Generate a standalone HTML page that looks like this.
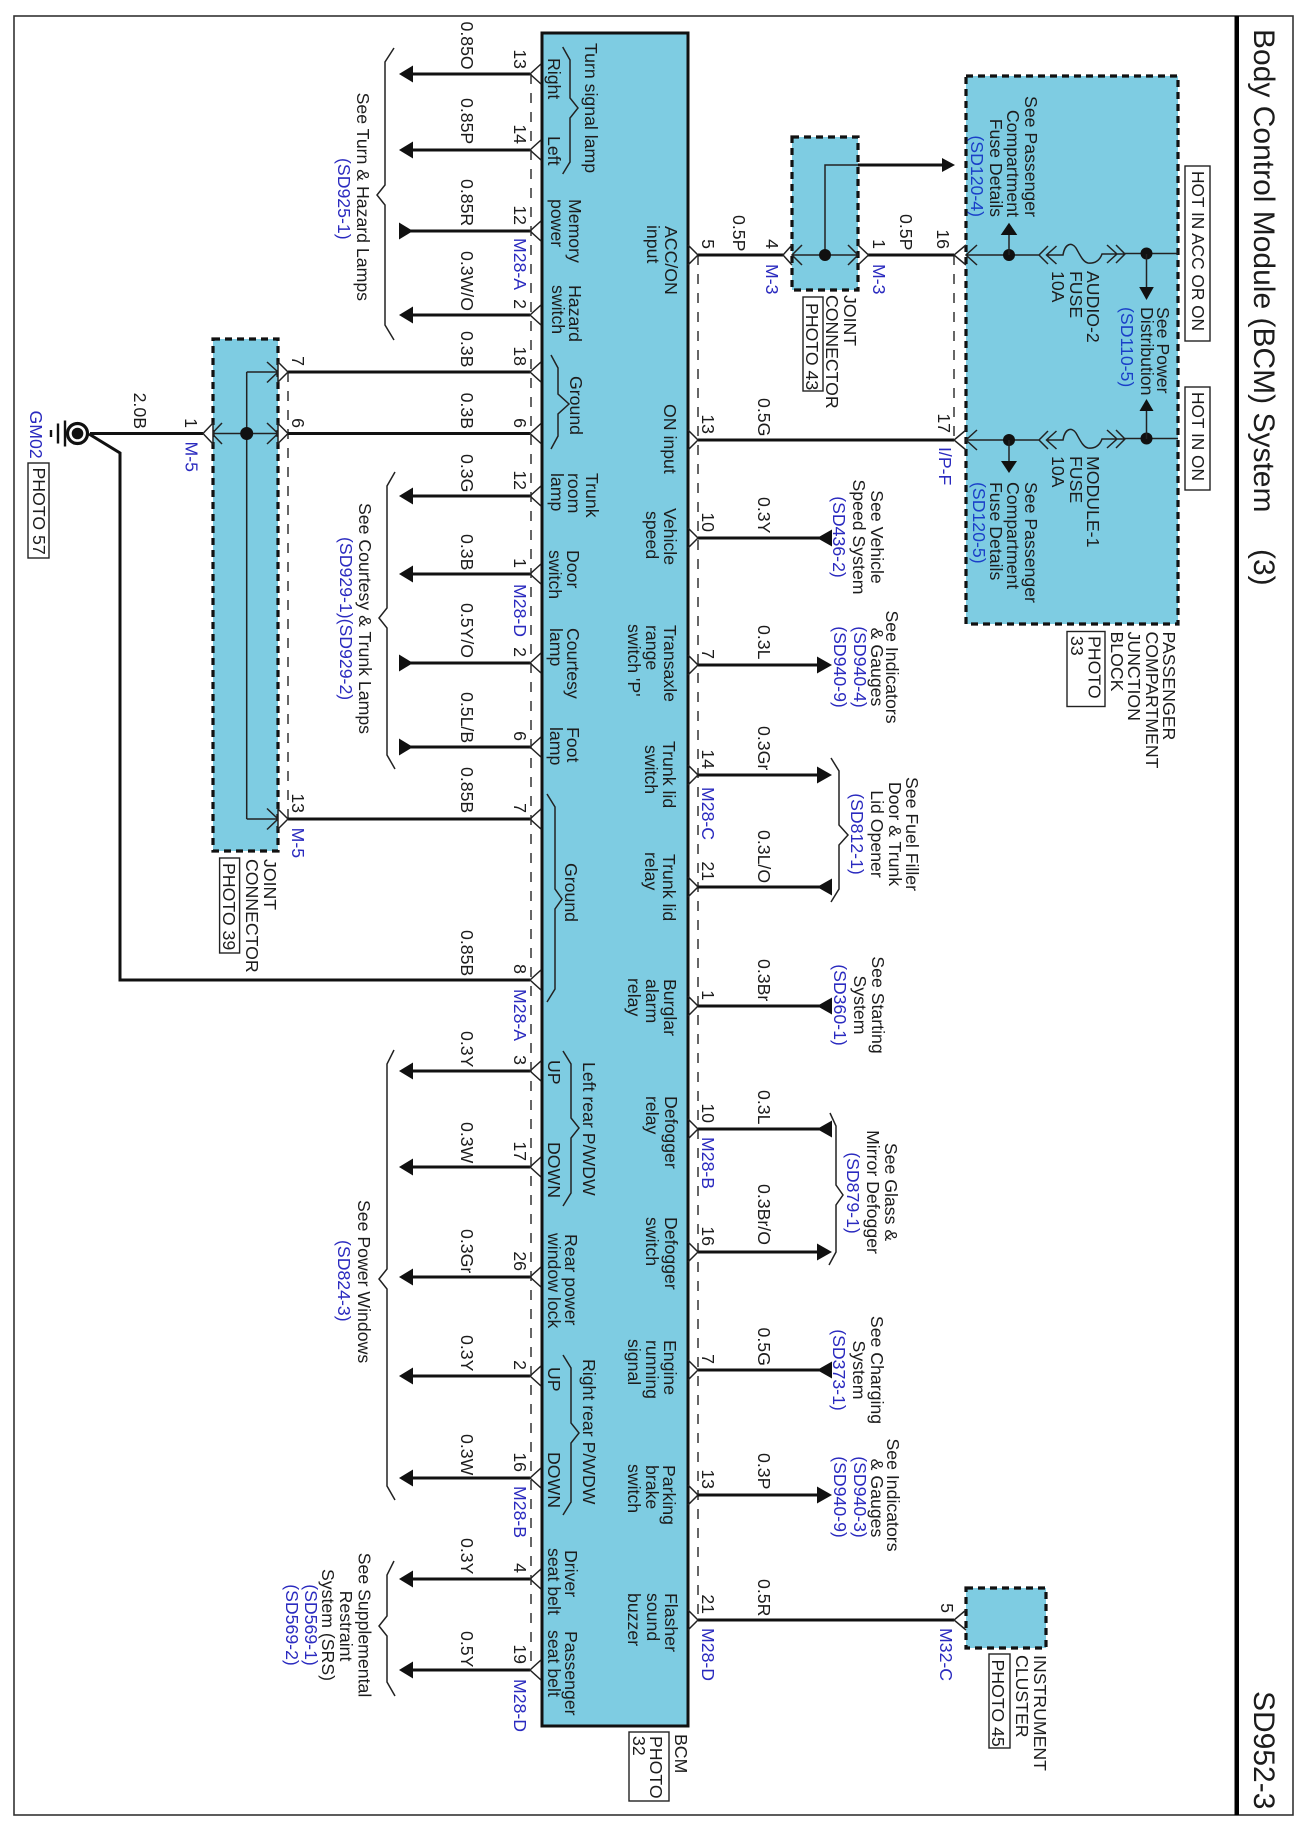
<!DOCTYPE html>
<html><head><meta charset="utf-8"><title>SD952-3</title>
<style>
html,body{margin:0;padding:0;background:#fff}
svg{display:block}
text{font-family:"Liberation Sans",sans-serif;font-size:17.7px;fill:#1c1c1c}
.m{text-anchor:middle}.e{text-anchor:end}
.b{fill:#2a2abf}.c{fill:#1a3fc8}
.t{font-size:30px}
.w{stroke:#111;stroke-width:3;fill:none}
.n{stroke:#222;stroke-width:1.5;fill:none}
.d{stroke:#333;stroke-width:1.5;stroke-dasharray:10 9;fill:none}
.x{fill:#7ecce2;stroke:#111;stroke-width:3.2;stroke-dasharray:7 5}
.k{fill:#111;stroke:none}
.r{fill:#fff;stroke:#222;stroke-width:1.4}
</style></head><body>
<svg xmlns="http://www.w3.org/2000/svg" width="1308" height="1836" viewBox="0 0 1308 1836">
<defs>
<path id="pL" class="n" d="M11 -10L0 0L11 10"/>
<path id="pR" class="n" d="M-10 -10L0 0L-10 10"/>
<polygon id="aL" class="k" points="0,0 14,-8.5 14,8.5"/>
<polygon id="aI" class="k" points="14,0 0,-8.5 0,8.5"/>
<polygon id="aR" class="k" points="15,0 0,-8.5 0,8.5"/>
<polygon id="aB" class="k" points="0,0 15,-8.5 15,8.5"/>
<g id="fuse" class="n"><path d="M966 0H1039M1048 -9L1039 0L1048 9M1056.5 -9L1046.5 0L1056.5 9M1046.5 0H1063C1065 -12 1072 -13 1076 -7C1080 0 1083 7 1088 8C1095 9 1100 5 1102 -1H1125M1107 -10L1117 -1L1107 8M1116 -10L1125 -1L1116 8M1125 -1.5H1178"/></g>
</defs>
<rect width="1308" height="1836" fill="#fff"/>
<rect x="14" y="16" width="1279" height="1799" fill="none" stroke="#333" stroke-width="1.6"/>
<rect x="1234.5" y="16" width="4.5" height="1799" fill="#000"/>

<!-- boxes -->
<rect x="542" y="33" width="146" height="1693" fill="#7ecce2" stroke="#111" stroke-width="3"/>
<rect x="966" y="76" width="212" height="548" class="x"/>
<rect x="792" y="137" width="66" height="153" class="x"/>
<rect x="213" y="339" width="65" height="512" class="x"/>
<rect x="966" y="1588" width="80" height="60" class="x"/>

<!-- dashed -->
<path class="d" d="M531 74V1670M698 255V1620M288 372V819M954 255V440"/>

<!-- left wires -->
<path class="w" d="M405 74H530M405 150H530M405 231H530M405 315H530M405 496H530M405 574H530M405 663H530M405 747H530M405 1071H530M405 1167H530M405 1277H530M405 1376H530M405 1478H530M405 1579H530M405 1670H530"/>
<path class="w" d="M288 372H530M288 433.5H530M288 819H530"/>
<path class="w" stroke-width="3.6" d="M89 434L120 453V980H530"/>
<path class="w" d="M90 433.5H203"/>
<use href="#aL" x="399" y="74"/><use href="#aL" x="399" y="150"/><use href="#aI" x="399" y="231"/><use href="#aL" x="399" y="315"/><use href="#aL" x="399" y="496"/><use href="#aL" x="399" y="574"/><use href="#aI" x="399" y="663"/><use href="#aI" x="399" y="747"/><use href="#aL" x="399" y="1071"/><use href="#aL" x="399" y="1167"/><use href="#aL" x="399" y="1277"/><use href="#aL" x="399" y="1376"/><use href="#aL" x="399" y="1478"/><use href="#aL" x="399" y="1579"/><use href="#aL" x="399" y="1670"/>
<use href="#pL" x="530" y="74"/><use href="#pL" x="530" y="150"/><use href="#pL" x="530" y="231"/><use href="#pL" x="530" y="315"/><use href="#pL" x="530" y="372"/><use href="#pL" x="530" y="433.5"/><use href="#pL" x="530" y="496"/><use href="#pL" x="530" y="574"/><use href="#pL" x="530" y="663"/><use href="#pL" x="530" y="747"/><use href="#pL" x="530" y="819"/><use href="#pL" x="530" y="980"/><use href="#pL" x="530" y="1071"/><use href="#pL" x="530" y="1167"/><use href="#pL" x="530" y="1277"/><use href="#pL" x="530" y="1376"/><use href="#pL" x="530" y="1478"/><use href="#pL" x="530" y="1579"/><use href="#pL" x="530" y="1670"/>

<!-- right wires -->
<path class="w" d="M698 255H783M868 255H954M698 440H954M698 538H820M698 665H820M698 775H820M698 887H820M698 1006H820M698 1129H820M698 1252H820M698 1370H820M698 1495H820M698 1620H954M858 165H942"/>
<use href="#pR" x="698" y="255"/><use href="#pR" x="698" y="440"/><use href="#pR" x="698" y="538"/><use href="#pR" x="698" y="665"/><use href="#pR" x="698" y="775"/><use href="#pR" x="698" y="887"/><use href="#pR" x="698" y="1006"/><use href="#pR" x="698" y="1129"/><use href="#pR" x="698" y="1252"/><use href="#pR" x="698" y="1370"/><use href="#pR" x="698" y="1495"/><use href="#pR" x="698" y="1620"/>
<use href="#aB" x="817" y="538"/><use href="#aR" x="817" y="665"/><use href="#aR" x="817" y="775"/><use href="#aB" x="817" y="887"/><use href="#aB" x="817" y="1006"/><use href="#aB" x="817" y="1129"/><use href="#aR" x="817" y="1252"/><use href="#aB" x="817" y="1370"/><use href="#aR" x="817" y="1495"/>
<polygon class="k" points="955,165 942,158 942,172"/>

<!-- M-3 joint -->
<path class="n" d="M792 255H858M825 255V165H858M802 245L792 255L802 265M848 245L858 255L848 265M792 245L783 255L792 265M858 245L868.5 255L858 265"/>
<circle cx="825" cy="255" r="6" class="k"/>

<!-- junction block pins -->
<path class="n" d="M966 245L954 255L966 265M977 245L966 255L977 265M966 430L954 440L966 450M977 430L966 440L977 450M966 1610L954 1620L966 1630"/>
<use href="#fuse" x="0" y="255"/><use href="#fuse" x="0" y="440"/>
<circle cx="1009" cy="255" r="6" class="k"/><circle cx="1146.5" cy="253.5" r="6" class="k"/>
<circle cx="1009" cy="440" r="6" class="k"/><circle cx="1146.5" cy="438.5" r="6" class="k"/>
<path class="n" stroke-width="2" d="M1009 255V235M1146.5 254V288M1009 440V461M1146.5 439V411"/>
<polygon class="k" points="1009,222.7 1000.7,235 1017.3,235"/>
<polygon class="k" points="1146.5,300 1139.2,287 1153.8,287"/>
<polygon class="k" points="1009,473 1001,461 1017,461"/>
<polygon class="k" points="1146.5,399 1139.5,411 1153.5,411"/>

<!-- M-5 joint -->
<path class="n" d="M213 433.5H278M246.7 372V819M246.7 372H278M246.7 819H278M267 362L278 372L267 382.5M267 423L278 433.5L267 444M267 808.5L278 819L267 829.5M222 423L212 433.5L222 444"/>
<circle cx="246.7" cy="433.5" r="6.5" class="k"/>
<path class="r" style="stroke-width:1.5" d="M213 423L203 433.5L213 444ZM278 362L288 372L278 382ZM278 423.5L288 433.5L278 443.5ZM278 809L288 819L278 829Z"/>

<!-- ground -->
<circle cx="77.5" cy="433.5" r="10" fill="#fff" stroke="#111" stroke-width="3.2"/>
<circle cx="77.5" cy="433.5" r="5.8" class="k"/>
<path stroke="#111" stroke-width="2.4" fill="none" d="M65 420.5V446.5M58 423.5V443.5M51 430V437"/>

<!-- braces -->
<path class="n" d="M394 48L385 62V185L377 195L385 205V325L394 340"/>
<path class="n" d="M395 472L387 486V608L379 618L387 628V755L395 769"/>
<path class="n" d="M394 1050L387 1064V1269L379 1279L387 1289V1486L395 1500"/>
<path class="n" d="M394 1561L387 1575V1616L379 1626L387 1636V1682L395 1696"/>
<path class="n" d="M562.7 47L570 60V98L578 108L570 118V162L562.7 174"/>
<path class="n" d="M551 355L558 368V394L569 404L558 414V436L551 449"/>
<path class="n" d="M547 794L555 807V889L562 899L555 909V989L547 1002"/>
<path class="n" d="M563 1051L571 1064V1118L579 1128L571 1138V1193L563 1206"/>
<path class="n" d="M563 1355L571 1368V1423L579 1433L571 1443V1502L563 1515"/>
<path class="n" d="M831 758L839 771V825L848 835L839 845V889L831 902"/>
<path class="n" d="M830 1113L836 1126V1185L843 1195L836 1205V1252L829 1265"/>

<!-- photo boxes -->
<rect class="r" x="28" y="463" width="21" height="95"/>
<rect class="r" x="219.6" y="858" width="20" height="95"/>
<rect class="r" x="803" y="297" width="20" height="94"/>
<rect class="r" x="1067" y="631.5" width="38" height="75"/>
<rect class="r" x="1185" y="166" width="25" height="175"/>
<rect class="r" x="1185" y="387" width="25" height="103"/>
<rect class="r" x="629" y="1732" width="40" height="69"/>
<rect class="r" x="989" y="1654" width="21" height="94"/>

<!-- title -->
<text class="t" transform="translate(1254,29) rotate(90)">Body Control Module (BCM) System</text>
<text class="t" transform="translate(1254,549) rotate(90)">(3)</text>
<text class="t" transform="translate(1254,1691) rotate(90)">SD952-3</text>

<!-- left wire labels -->
<text transform="translate(461,21.5) rotate(90)">0.85O</text>
<text transform="translate(461,98) rotate(90)">0.85P</text>
<text transform="translate(461,179) rotate(90)">0.85R</text>
<text transform="translate(461,251) rotate(90)">0.3W/O</text>
<text transform="translate(461,331) rotate(90)">0.3B</text>
<text transform="translate(461,392.6) rotate(90)">0.3B</text>
<text transform="translate(461,454) rotate(90)">0.3G</text>
<text transform="translate(461,534) rotate(90)">0.3B</text>
<text transform="translate(461,603) rotate(90)">0.5Y/O</text>
<text transform="translate(461,692) rotate(90)">0.5L/B</text>
<text transform="translate(461,767) rotate(90)">0.85B</text>
<text transform="translate(461,930) rotate(90)">0.85B</text>
<text transform="translate(461,1031) rotate(90)">0.3Y</text>
<text transform="translate(461,1122) rotate(90)">0.3W</text>
<text transform="translate(461,1229) rotate(90)">0.3Gr</text>
<text transform="translate(461,1335) rotate(90)">0.3Y</text>
<text transform="translate(461,1434) rotate(90)">0.3W</text>
<text transform="translate(461,1538) rotate(90)">0.3Y</text>
<text transform="translate(461,1631) rotate(90)">0.5Y</text>
<text transform="translate(134,392.6) rotate(90)">2.0B</text>

<!-- left pin numbers -->
<text class="e" transform="translate(514,69) rotate(90)">13</text>
<text class="e" transform="translate(514,144) rotate(90)">14</text>
<text class="e" transform="translate(514,225) rotate(90)">12</text>
<text class="e" transform="translate(514,309) rotate(90)">2</text>
<text class="e" transform="translate(514,366) rotate(90)">18</text>
<text class="e" transform="translate(514,428) rotate(90)">6</text>
<text class="e" transform="translate(514,490) rotate(90)">12</text>
<text class="e" transform="translate(514,568) rotate(90)">1</text>
<text class="e" transform="translate(514,657) rotate(90)">2</text>
<text class="e" transform="translate(514,741) rotate(90)">6</text>
<text class="e" transform="translate(514,813) rotate(90)">7</text>
<text class="e" transform="translate(514,974) rotate(90)">8</text>
<text class="e" transform="translate(514,1065) rotate(90)">3</text>
<text class="e" transform="translate(514,1161) rotate(90)">17</text>
<text class="e" transform="translate(514,1271) rotate(90)">26</text>
<text class="e" transform="translate(514,1370) rotate(90)">2</text>
<text class="e" transform="translate(514,1472) rotate(90)">16</text>
<text class="e" transform="translate(514,1573) rotate(90)">4</text>
<text class="e" transform="translate(514,1664) rotate(90)">19</text>
<text class="e" transform="translate(292,366) rotate(90)">7</text>
<text class="e" transform="translate(292,428) rotate(90)">6</text>
<text class="e" transform="translate(292,813) rotate(90)">13</text>
<text class="e" transform="translate(185,428) rotate(90)">1</text>

<!-- right wire labels -->
<text transform="translate(733,215) rotate(90)">0.5P</text>
<text transform="translate(900,214) rotate(90)">0.5P</text>
<text transform="translate(758,398) rotate(90)">0.5G</text>
<text transform="translate(758,497) rotate(90)">0.3Y</text>
<text transform="translate(758,625) rotate(90)">0.3L</text>
<text transform="translate(758,726) rotate(90)">0.3Gr</text>
<text transform="translate(758,830) rotate(90)">0.3L/O</text>
<text transform="translate(758,959) rotate(90)">0.3Br</text>
<text transform="translate(758,1090) rotate(90)">0.3L</text>
<text transform="translate(758,1184) rotate(90)">0.3Br/O</text>
<text transform="translate(758,1327.5) rotate(90)">0.5G</text>
<text transform="translate(758,1453) rotate(90)">0.3P</text>
<text transform="translate(758,1579) rotate(90)">0.5R</text>

<!-- right pin numbers -->
<text class="e" transform="translate(702,249) rotate(90)">5</text>
<text class="e" transform="translate(766,249) rotate(90)">4</text>
<text class="e" transform="translate(873,249) rotate(90)">1</text>
<text class="e" transform="translate(937,249) rotate(90)">16</text>
<text class="e" transform="translate(702,434) rotate(90)">13</text>
<text class="e" transform="translate(938,433) rotate(90)">17</text>
<text class="e" transform="translate(702,532) rotate(90)">10</text>
<text class="e" transform="translate(702,659) rotate(90)">7</text>
<text class="e" transform="translate(702,769) rotate(90)">14</text>
<text class="e" transform="translate(702,881) rotate(90)">21</text>
<text class="e" transform="translate(702,1000) rotate(90)">1</text>
<text class="e" transform="translate(702,1123) rotate(90)">10</text>
<text class="e" transform="translate(702,1246) rotate(90)">16</text>
<text class="e" transform="translate(702,1364) rotate(90)">7</text>
<text class="e" transform="translate(702,1489) rotate(90)">13</text>
<text class="e" transform="translate(702,1614) rotate(90)">21</text>
<text class="e" transform="translate(941,1613) rotate(90)">5</text>

<!-- connector names -->
<text class="b" transform="translate(514,238) rotate(90)">M28-A</text>
<text class="b" transform="translate(514,584) rotate(90)">M28-D</text>
<text class="b" transform="translate(514,989) rotate(90)">M28-A</text>
<text class="b" transform="translate(514,1486) rotate(90)">M28-B</text>
<text class="b" transform="translate(514,1679) rotate(90)">M28-D</text>
<text class="b" transform="translate(185.5,441.5) rotate(90)">M-5</text>
<text class="b" transform="translate(292,827.6) rotate(90)">M-5</text>
<text class="b" transform="translate(30,410.5) rotate(90)">GM02</text>
<text class="b" transform="translate(766,264) rotate(90)">M-3</text>
<text class="b" transform="translate(873,264) rotate(90)">M-3</text>
<text class="b" transform="translate(939,447) rotate(90)">I/P-F</text>
<text class="b" transform="translate(702,787) rotate(90)">M28-C</text>
<text class="b" transform="translate(702,1137) rotate(90)">M28-B</text>
<text class="b" transform="translate(702,1628) rotate(90)">M28-D</text>
<text class="b" transform="translate(940,1628) rotate(90)">M32-C</text>

<!-- BCM left column -->
<text transform="translate(585,43) rotate(90)">Turn signal lamp</text>
<text transform="translate(548,58) rotate(90)">Right</text>
<text transform="translate(548,136) rotate(90)">Left</text>
<text transform="translate(569,199) rotate(90)">Memory</text>
<text transform="translate(551,199) rotate(90)">power</text>
<text transform="translate(569,285) rotate(90)">Hazard</text>
<text transform="translate(552,285) rotate(90)">switch</text>
<text transform="translate(570,376) rotate(90)">Ground</text>
<text transform="translate(586,473) rotate(90)">Trunk</text>
<text transform="translate(568,473) rotate(90)">room</text>
<text transform="translate(551,473) rotate(90)">lamp</text>
<text transform="translate(567,550) rotate(90)">Door</text>
<text transform="translate(549,550) rotate(90)">switch</text>
<text transform="translate(567,628) rotate(90)">Courtesy</text>
<text transform="translate(550,628) rotate(90)">lamp</text>
<text transform="translate(567,727) rotate(90)">Foot</text>
<text transform="translate(550,727) rotate(90)">lamp</text>
<text transform="translate(565,863) rotate(90)">Ground</text>
<text transform="translate(583,1062) rotate(90)">Left rear P/WDW</text>
<text transform="translate(548,1060) rotate(90)">UP</text>
<text transform="translate(548,1142) rotate(90)">DOWN</text>
<text transform="translate(565,1234) rotate(90)">Rear power</text>
<text transform="translate(548,1233) rotate(90)">window lock</text>
<text transform="translate(583,1359) rotate(90)">Right rear P/WDW</text>
<text transform="translate(548,1367) rotate(90)">UP</text>
<text transform="translate(548,1452) rotate(90)">DOWN</text>
<text transform="translate(565,1550) rotate(90)">Driver</text>
<text transform="translate(548,1548) rotate(90)">seat belt</text>
<text transform="translate(565,1631) rotate(90)">Passenger</text>
<text transform="translate(548,1630) rotate(90)">seat belt</text>

<!-- BCM right column -->
<text transform="translate(665,226) rotate(90)">ACC/ON</text>
<text transform="translate(647,225) rotate(90)">input</text>
<text transform="translate(664,404) rotate(90)">ON input</text>
<text transform="translate(664,508) rotate(90)">Vehicle</text>
<text transform="translate(646,511) rotate(90)">speed</text>
<text transform="translate(664,625) rotate(90)">Transaxle</text>
<text transform="translate(646,625) rotate(90)">range</text>
<text transform="translate(628,624) rotate(90)">switch 'P'</text>
<text transform="translate(663,741) rotate(90)">Trunk lid</text>
<text transform="translate(645,745) rotate(90)">switch</text>
<text transform="translate(663,854) rotate(90)">Trunk lid</text>
<text transform="translate(645,852) rotate(90)">relay</text>
<text transform="translate(664,979) rotate(90)">Burglar</text>
<text transform="translate(646,979) rotate(90)">alarm</text>
<text transform="translate(628,978) rotate(90)">relay</text>
<text transform="translate(665,1096) rotate(90)">Defogger</text>
<text transform="translate(646,1096) rotate(90)">relay</text>
<text transform="translate(665,1217) rotate(90)">Defogger</text>
<text transform="translate(646,1217) rotate(90)">switch</text>
<text transform="translate(664,1340) rotate(90)">Engine</text>
<text transform="translate(646,1340) rotate(90)">running</text>
<text transform="translate(628,1339) rotate(90)">signal</text>
<text transform="translate(663,1465) rotate(90)">Parking</text>
<text transform="translate(646,1465) rotate(90)">brake</text>
<text transform="translate(628,1464) rotate(90)">switch</text>
<text transform="translate(665,1593) rotate(90)">Flasher</text>
<text transform="translate(647,1593) rotate(90)">sound</text>
<text transform="translate(628,1593) rotate(90)">buzzer</text>
<text transform="translate(675,1734) rotate(90)">BCM</text>
<text transform="translate(650,1736) rotate(90)">PHOTO</text>
<text transform="translate(633,1736) rotate(90)">32</text>

<!-- junction block text -->
<text class="e" transform="translate(1025,217) rotate(90)">See Passenger</text>
<text class="e" transform="translate(1007,217) rotate(90)">Compartment</text>
<text class="e" transform="translate(990,217) rotate(90)">Fuse Details</text>
<text class="e c" transform="translate(971,217) rotate(90)">(SD120-4)</text>
<text transform="translate(1025,482) rotate(90)">See Passenger</text>
<text transform="translate(1007,482) rotate(90)">Compartment</text>
<text transform="translate(990,482) rotate(90)">Fuse Details</text>
<text class="c" transform="translate(973,482) rotate(90)">(SD120-5)</text>
<text transform="translate(1087,271) rotate(90)">AUDIO-2</text>
<text transform="translate(1070,271) rotate(90)">FUSE</text>
<text transform="translate(1052,271) rotate(90)">10A</text>
<text transform="translate(1087,456) rotate(90)">MODULE-1</text>
<text transform="translate(1070,456) rotate(90)">FUSE</text>
<text transform="translate(1052,456) rotate(90)">10A</text>
<text transform="translate(1157,307) rotate(90)">See Power</text>
<text transform="translate(1141,307) rotate(90)">Distribution</text>
<text class="c" transform="translate(1121,307) rotate(90)">(SD110-5)</text>
<text style="font-size:17.3px" transform="translate(1192,171) rotate(90)">HOT IN ACC OR ON</text>
<text style="font-size:17.3px" transform="translate(1192,392) rotate(90)">HOT IN ON</text>
<text transform="translate(1163,631.5) rotate(90)">PASSENGER</text>
<text transform="translate(1146,631.5) rotate(90)">COMPARTMENT</text>
<text transform="translate(1128,631.5) rotate(90)">JUNCTION</text>
<text transform="translate(1111,631.5) rotate(90)">BLOCK</text>
<text transform="translate(1088.5,636) rotate(90)">PHOTO</text>
<text transform="translate(1071,636) rotate(90)">33</text>
<text transform="translate(844,295) rotate(90)">JOINT</text>
<text transform="translate(826,295) rotate(90)">CONNECTOR</text>
<text transform="translate(806,303) rotate(90)">PHOTO 43</text>
<text transform="translate(264,859) rotate(90)">JOINT</text>
<text transform="translate(246,859) rotate(90)">CONNECTOR</text>
<text transform="translate(223,863) rotate(90)">PHOTO 39</text>
<text transform="translate(33,467.5) rotate(90)">PHOTO 57</text>
<text transform="translate(1034,1655) rotate(90)">INSTRUMENT</text>
<text transform="translate(1016,1655) rotate(90)">CLUSTER</text>
<text transform="translate(992,1659.5) rotate(90)">PHOTO 45</text>

<!-- right references -->
<text class="m" transform="translate(871,537) rotate(90)">See Vehicle</text>
<text class="m" transform="translate(853,537) rotate(90)">Speed System</text>
<text class="m b" transform="translate(833,537) rotate(90)">(SD436-2)</text>
<text class="m" transform="translate(886,667) rotate(90)">See Indicators</text>
<text class="m" transform="translate(871,667) rotate(90)">&amp; Gauges</text>
<text class="m b" transform="translate(854,667) rotate(90)">(SD940-4)</text>
<text class="m b" transform="translate(834,667) rotate(90)">(SD940-9)</text>
<text class="m" transform="translate(906,834) rotate(90)">See Fuel Filler</text>
<text class="m" transform="translate(889,834) rotate(90)">Door &amp; Trunk</text>
<text class="m" transform="translate(871,834) rotate(90)">Lid Opener</text>
<text class="m b" transform="translate(851,834) rotate(90)">(SD812-1)</text>
<text class="m" transform="translate(872,1005) rotate(90)">See Starting</text>
<text class="m" transform="translate(854,1005) rotate(90)">System</text>
<text class="m b" transform="translate(834,1005) rotate(90)">(SD360-1)</text>
<text class="m" transform="translate(885,1192) rotate(90)">See Glass &amp;</text>
<text class="m" transform="translate(867,1192) rotate(90)">Mirror Defogger</text>
<text class="m b" transform="translate(847,1193) rotate(90)">(SD879-1)</text>
<text class="m" transform="translate(871,1370) rotate(90)">See Charging</text>
<text class="m" transform="translate(853,1370) rotate(90)">System</text>
<text class="m b" transform="translate(833,1370) rotate(90)">(SD373-1)</text>
<text class="m" transform="translate(887,1495) rotate(90)">See Indicators</text>
<text class="m" transform="translate(871,1498) rotate(90)">&amp; Gauges</text>
<text class="m b" transform="translate(854,1497) rotate(90)">(SD940-3)</text>
<text class="m b" transform="translate(834,1497) rotate(90)">(SD940-9)</text>

<!-- left references -->
<text transform="translate(357,92.6) rotate(90)">See Turn &amp; Hazard Lamps</text>
<text class="b" transform="translate(338,158) rotate(90)">(SD925-1)</text>
<text transform="translate(359,503) rotate(90)">See Courtesy &amp; Trunk Lamps</text>
<text class="b" transform="translate(340,537) rotate(90)">(SD929-1)(SD929-2)</text>
<text transform="translate(358,1200) rotate(90)">See Power Windows</text>
<text class="b" transform="translate(338,1240) rotate(90)">(SD824-3)</text>
<text class="m" transform="translate(358.5,1625) rotate(90)">See Supplemental</text>
<text class="m" transform="translate(340,1626) rotate(90)">Restraint</text>
<text class="m" transform="translate(322,1625) rotate(90)">System (SRS)</text>
<text class="m b" transform="translate(305,1625) rotate(90)">(SD569-1)</text>
<text class="m b" transform="translate(286,1625) rotate(90)">(SD569-2)</text>
</svg>
</body></html>
